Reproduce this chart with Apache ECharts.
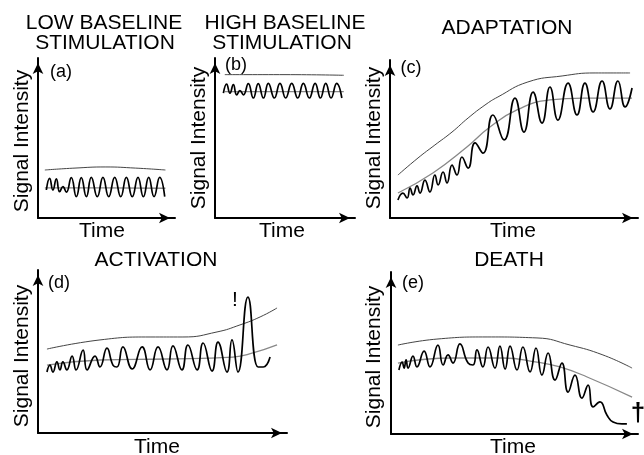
<!DOCTYPE html>
<html><head><meta charset="utf-8">
<script src="https://cdn.jsdelivr.net/npm/echarts@6/dist/echarts.min.js"></script>
<style>html,body{margin:0;padding:0;background:#fff}#c{width:644px;height:455px}</style>
</head><body><div id="c"></div>
<script>
// ---- text ----
const panelTitles = [["LOW BASELINE", "STIMULATION"], ["HIGH BASELINE", "STIMULATION"], ["ADAPTATION"], ["ACTIVATION"], ["DEATH"]];
const panelTags = ["(a)", "(b)", "(c)", "(d)", "(e)"];
const xName = "Time";
const yName = "Signal Intensity";

// ---- (a) low baseline ----
const sigAX = [6.1, 8.5, 10.9, 13.4, 15.8, 18.2, 20.7, 24.3, 28, 31.6, 35.3, 38.9, 43.3, 47.4, 51.6, 56, 60.4, 64.5, 68.8, 73, 76.9, 80.8, 84.7, 88.8, 92.5];
const sigAY = [17.5, 24.8, 17.5, 24.4, 16.4, 19.6, 16.1, 25.2, 13.3, 25.2, 13.3, 25.4, 13.3, 25.4, 13.3, 25.4, 13.3, 25.4, 13.3, 25.4, 13.3, 25.4, 13.3, 25.4, 13.3];
const upAX = [5, 27, 49, 71, 93];
const upAY = [30, 31.2, 31.9, 31.2, 30];
const baseAX = [5, 50, 93];
const baseAY = [18.8, 18.8, 18.6];

// ---- (b) high baseline ----
const sigBX = [6, 8.3, 10.7, 13.1, 15.5, 17.8, 20.3, 23.8, 27.4, 30.9, 34.6, 38.1, 42.4, 46.4, 50.5, 54.8, 59.1, 63.1, 67.4, 71.5, 75.3, 79.1, 82.9, 86.9, 90.6];
const sigBY = [78, 83.7, 78, 83.4, 77, 79.6, 77, 84, 75, 84, 75, 84.2, 75, 84.2, 75, 84.2, 75, 84.2, 75, 84.2, 75, 84.2, 75, 84.2, 75];
const upBX = [7, 50, 92];
const upBY = [89.6, 89.6, 89.2];
const baseBX = [7, 50, 92];
const baseBY = [79, 79, 79];

// ---- (c) adaptation ----
const sigCX = [3.2, 5.2, 6.9, 8.1, 9.3, 10.9, 12.1, 14.1, 16.1, 18.1, 19.4, 21.4, 23, 25, 27, 29, 31.5, 34.3, 37.5, 41.5, 46, 50.4, 54, 57.7, 61.3, 64.5, 67.7, 71.8, 75.4, 78.6, 81.9, 85.5, 88.7, 91.9, 94.8, 97.6];
const sigCY = [11.4, 15.8, 12.7, 19, 14.6, 20.3, 15.8, 24, 16.5, 27.2, 20.9, 29.1, 22.2, 33.5, 27.2, 38.6, 31.6, 47.5, 41.1, 65.2, 49.4, 75.9, 54.4, 79.7, 60.1, 82.9, 62, 85.4, 65.2, 85.4, 67.1, 86.7, 69, 86.7, 70.3, 82.3];
const upCX = [3.2, 11.3, 18.1, 25, 31.5, 38.3, 43.5, 55.6, 69.4, 82.7, 96.8];
const upCY = [27.2, 38, 46.2, 54.4, 63.3, 71.5, 76.6, 86.1, 89.9, 91.8, 91.8];
const baseCX = [3.2, 17.3, 31, 40.3, 51.2, 64.5, 77.8, 97.6];
const baseCY = [15.8, 28.5, 44.9, 57.6, 68.4, 74.7, 75.9, 75.9];

// ---- (d) activation ----
const sigDX = [3.6, 4.8, 6, 7.6, 8.8, 10, 11.6, 13.7, 15.3, 18.1, 19.7, 22.9, 24.9, 27.7, 30.1, 31.7, 34.1, 37.8, 41.8, 45, 48.2, 51.8, 54.2, 57.8, 60.2, 63.9, 66.3, 69.9, 72.3, 75.9, 77.9, 80.3, 84.3, 88.4, 90.4, 93.2];
const sigDY = [37.4, 41.7, 37.4, 43.6, 38.7, 43.6, 38.7, 47.2, 38.7, 50.9, 38.7, 47.2, 40.5, 52.1, 41.7, 40.5, 52.8, 39.3, 52.8, 38.7, 52.8, 38.7, 53.4, 38.7, 54, 38.7, 55.2, 38, 55.8, 37.4, 57.1, 37.4, 83.4, 40.5, 40.5, 46.6];
const upDX = [3.6, 24.9, 45, 58.2, 71.9, 81.1, 89.2, 96];
const upDY = [51.5, 57.1, 58.9, 58.9, 62, 66.3, 71.2, 76.7];
const baseDX = [3.6, 24.9, 51.8, 78.3, 86.3, 96];
const baseDY = [41.7, 44.8, 45.4, 46.6, 49.1, 54];

// ---- (e) death ----
const sigEX = [3.2, 4.5, 5.3, 6.1, 6.9, 8.9, 10.5, 13.4, 15.8, 19, 21.1, 23.1, 25.1, 27.9, 31.2, 33.2, 34.8, 37.2, 39.3, 42.1, 44.1, 46.2, 48.2, 51, 53.4, 56.3, 58.7, 61.1, 63.6, 66.4, 69.2, 71.7, 74.5, 77.3, 79.8, 81.8, 84.6, 87.4, 89.9, 93.5, 95.5];
const sigEY = [39.5, 44.4, 40.7, 45.7, 40.7, 48.1, 41.4, 51.2, 41.4, 54.9, 42.6, 48.8, 43.8, 55.6, 43.8, 42.6, 51.9, 41.4, 53.7, 40.7, 54.3, 40.1, 54.3, 39.5, 53.7, 38.3, 53.1, 36.4, 50, 33.3, 43.8, 25.9, 36.4, 22.2, 30.2, 16.7, 19.8, 11.7, 7.4, 6.2, 6.2];
const upEX = [2.8, 18.6, 38.9, 59.1, 72.5, 85.8, 97.6];
const upEY = [54.9, 58.6, 59.9, 59.3, 54.9, 48.8, 40.7];
const baseEX = [2.8, 25.1, 45.3, 59.1, 68.4, 79.4, 97.6];
const baseEY = [43.8, 46.9, 46.9, 44.4, 41.4, 35.2, 22.8];

// ---- build ----
const FONT = "'Liberation Sans', Arial, sans-serif";
const zip = (xs, ys) => xs.map((x, i) => [x, ys[i]]);
const panels = [
  { grid: { left: 38, top: 58, width: 137, height: 160 }, sig: zip(sigAX, sigAY), up: zip(upAX, upAY), base: zip(baseAX, baseAY) },
  { grid: { left: 215, top: 58, width: 140, height: 160 }, sig: zip(sigBX, sigBY), up: zip(upBX, upBY), base: zip(baseBX, baseBY) },
  { grid: { left: 390, top: 60, width: 248, height: 158 }, sig: zip(sigCX, sigCY), up: zip(upCX, upCY), base: zip(baseCX, baseCY) },
  { grid: { left: 38, top: 270, width: 249, height: 163 }, sig: zip(sigDX, sigDY), up: zip(upDX, upDY), base: zip(baseDX, baseDY) },
  { grid: { left: 391, top: 272, width: 247, height: 162 }, sig: zip(sigEX, sigEY), up: zip(upEX, upEY), base: zip(baseEX, baseEY) }
];
const axisLine = { show: true, onZero: false, symbol: ['none', 'arrow'], symbolSize: [8, 11], symbolOffset: [0, -5], lineStyle: { color: '#000', width: 2 } };
const axisCommon = { type: 'value', min: 0, max: 100, axisLine, axisTick: { show: false }, axisLabel: { show: false }, splitLine: { show: false } };

const grids = [], xAxes = [], yAxes = [], series = [];
panels.forEach((p, i) => {
  grids.push(Object.assign({ containLabel: false }, p.grid));
  xAxes.push(Object.assign({ gridIndex: i }, axisCommon));
  yAxes.push(Object.assign({ gridIndex: i }, axisCommon));
  series.push({ type: 'line', xAxisIndex: i, yAxisIndex: i, data: p.up, smooth: true, showSymbol: false, silent: true, lineStyle: { color: '#444', width: 1 } });
  series.push({ type: 'line', xAxisIndex: i, yAxisIndex: i, data: p.base, smooth: true, showSymbol: false, silent: true, lineStyle: { color: '#888', width: 1.3 } });
  series.push({ type: 'line', xAxisIndex: i, yAxisIndex: i, data: p.sig, smooth: 0.5, showSymbol: false, silent: true, lineStyle: { color: '#000', width: 1.7 } });
});

// text positions (centers)
const titlePos = [[[104, 23], [105, 43]], [[285, 23], [282, 43]], [[507, 28]], [[156, 260]], [[509, 260]]];
const tagPos = [[61, 72], [236, 65], [411, 68], [59, 283], [413, 283]];
const timePos = [[102, 231], [282, 231], [513, 231], [157, 447], [513, 447]];
const yLabPos = [[22, 141], [199, 138], [374, 138], [22, 356], [374, 357]];

const graphic = [];
panelTitles.forEach((lines, i) => {
  lines.forEach((t, j) => graphic.push({ type: 'text', x: titlePos[i][j][0], y: titlePos[i][j][1], style: { text: t, font: '21px ' + FONT, fill: '#000', align: 'center', verticalAlign: 'middle' } }));
  graphic.push({ type: 'text', x: tagPos[i][0], y: tagPos[i][1], style: { text: panelTags[i], font: '18px ' + FONT, fill: '#000', align: 'center', verticalAlign: 'middle' } });
  graphic.push({ type: 'text', x: timePos[i][0], y: timePos[i][1], style: { text: xName, font: '21px ' + FONT, fill: '#000', align: 'center', verticalAlign: 'middle' } });
  graphic.push({ type: 'text', x: yLabPos[i][0], y: yLabPos[i][1], rotation: Math.PI / 2, style: { text: yName, font: '21px ' + FONT, fill: '#000', align: 'center', verticalAlign: 'middle' } });
});
graphic.push({ type: 'text', x: 235, y: 300, style: { text: '!', font: '21px ' + FONT, fill: '#000', align: 'center', verticalAlign: 'middle' } });
graphic.push({ type: 'text', x: 638, y: 414, style: { text: '\u2020', font: 'bold 26px ' + FONT, fill: '#000', align: 'center', verticalAlign: 'middle' } });

const chart = echarts.init(document.getElementById('c'), null, { renderer: 'canvas' });
chart.setOption({ animation: false, backgroundColor: '#fff', grid: grids, xAxis: xAxes, yAxis: yAxes, series, graphic });
</script>
</body></html>
